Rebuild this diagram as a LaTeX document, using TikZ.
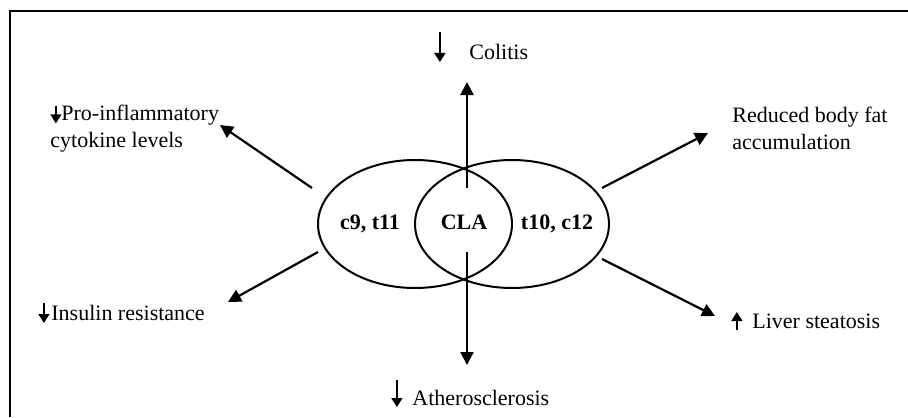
\documentclass[tikz,border=0pt]{standalone}
\usepackage{fontspec}
\setmainfont{Liberation Serif}
\usetikzlibrary{arrows.meta,shapes.geometric}

\tikzset{effarr/.style={line width=0.7pt, -{Triangle[length=4.5pt,width=5.5pt]}}}
% small up/down arrow set in front of an effect
\newcommand{\effarrow}[2]{\tikz[baseline=0pt]\draw[effarr] (0pt,#1) -- (0pt,#2);}

\begin{document}
\begin{tikzpicture}[x=0.5pt, y=-0.5pt,
  oval/.style={draw, ellipse, line width=1pt, minimum width=97pt,
               minimum height=64pt, inner sep=0pt},
  iso/.style={font=\fontsize{11}{13.5}\selectfont\bfseries, inner sep=0pt, anchor=base},
  lbl/.style={font=\fontsize{11}{13.5}\selectfont, align=left, inner sep=0pt, anchor=base west},
  arr/.style={-{Triangle[length=6.5pt,width=6.5pt]}, line width=1.1pt}]
  \useasboundingbox (0,0) rectangle (908,417);
  \draw[line width=1pt] (10,417) -- (10,11) -- (908,11);

  % the two isomers and their overlap
  \node[oval] (c9) at (415,224) {};
  \node[oval] (t10) at (512,224) {};
  \node[iso] (c9lbl) at (370,229) {c9, t11};
  \node[iso] (cla) at (464,229) {CLA};
  \node[iso] (t10lbl) at (557,229) {t10, c12};

  % effects
  \node[lbl] (colitis) at (434,60) {\effarrow{14pt}{-1pt}\hspace{12pt}Colitis};
  \node[lbl, anchor=west] (proinf) at (50,128.5) {\effarrow{7pt}{-1.5pt}Pro-inflammatory\\cytokine levels};
  \node[lbl, anchor=west] (bodyfat) at (732,128.5) {Reduced body fat\\accumulation};
  \node[lbl] (insulin) at (38,320) {\effarrow{8.5pt}{-1.5pt}\hspace{1pt}Insulin resistance};
  \node[lbl] (liver) at (731,328) {\effarrow{-1pt}{8pt}\hspace{5pt}Liver steatosis};
  \node[lbl] (athero) at (391,405) {\effarrow{12.5pt}{-1pt}\hspace{5pt}Atherosclerosis};

  \coordinate (colstart) at (467,188);
  \coordinate (coltip) at (467,82);
  \coordinate (athstart) at (467,252);
  \coordinate (athtip) at (467,365);
  \coordinate (prostart) at (312,188);
  \coordinate (protip) at (220,125);
  \coordinate (insstart) at (318,252);
  \coordinate (instip) at (228,302);
  \coordinate (fatstart) at (602,188);
  \coordinate (fattip) at (708,133);
  \coordinate (livstart) at (602,259);
  \coordinate (livtip) at (715,316);

  \draw[arr] (colstart) -- (coltip);
  \draw[arr] (athstart) -- (athtip);
  \draw[arr] (prostart) -- (protip);
  \draw[arr] (insstart) -- (instip);
  \draw[arr] (fatstart) -- (fattip);
  \draw[arr] (livstart) -- (livtip);
\end{tikzpicture}
\end{document}
